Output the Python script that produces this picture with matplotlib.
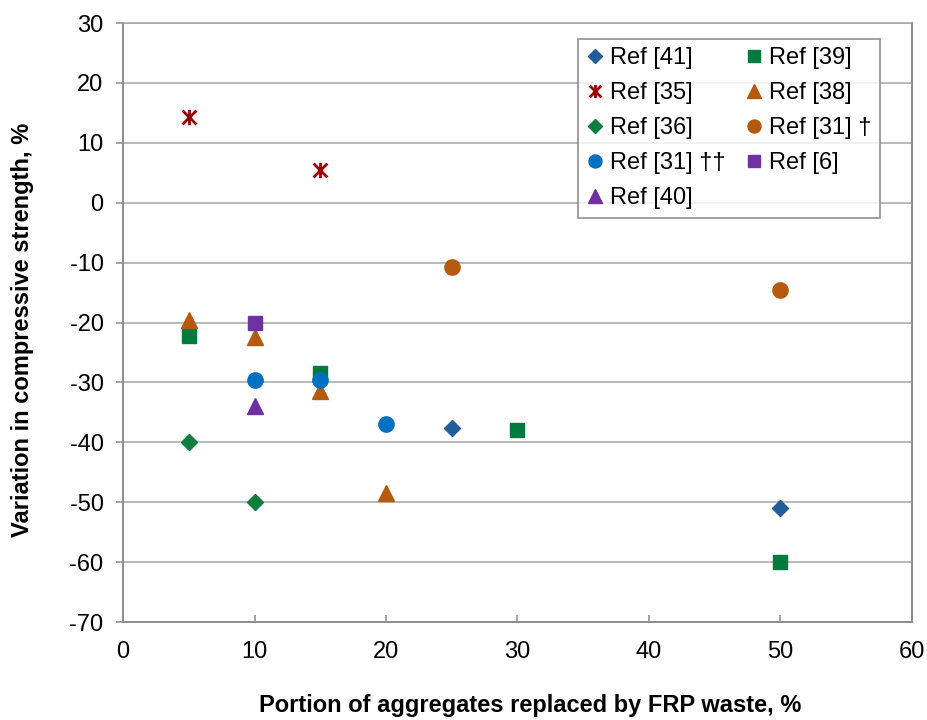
import matplotlib
matplotlib.use('Agg')
import matplotlib.pyplot as plt
from matplotlib.path import Path

plt.rcParams['font.family'] = ['Liberation Sans', 'DejaVu Sans']
plt.rcParams['axes.unicode_minus'] = False

# data
ref41_x = [25, 50]
ref41_y = [-37.6, -51.0]
ref39_x = [5, 15, 30, 50]
ref39_y = [-22.3, -28.5, -38.0, -60.0]
ref35_x = [5, 15]
ref35_y = [14.3, 5.4]
ref38_x = [5, 10, 15, 20]
ref38_y = [-19.5, -22.5, -31.5, -48.5]
ref36_x = [5, 10]
ref36_y = [-40.0, -50.0]
ref31a_x = [25, 50]          # Ref [31] †
ref31a_y = [-10.7, -14.5]
ref31b_x = [10, 15, 20]      # Ref [31] ††
ref31b_y = [-29.6, -29.6, -36.9]
ref6_x = [10]
ref6_y = [-20.0]
ref40_x = [10]
ref40_y = [-34.0]

# X with a vertical bar, like the spreadsheet "star" marker
star = Path([(-1, -1), (1, 1), (-1, 1), (1, -1), (0, -1.1), (0, 1.1)],
            [Path.MOVETO, Path.LINETO, Path.MOVETO, Path.LINETO, Path.MOVETO, Path.LINETO])

fig = plt.figure(figsize=(9.27, 7.2), dpi=100)
ax = fig.add_axes([0.1327, 0.1361, 0.8511, 0.8319])

grid_c = '#A6A6A6'
spine_c = '#8C8C8C'
ax.set_xlim(0, 60)
ax.set_ylim(-70, 30)
ax.set_xticks(range(0, 61, 10))
ax.set_yticks(range(-70, 31, 10))
ax.yaxis.grid(True, color=grid_c, linewidth=1.1)
ax.set_axisbelow(True)
for s in ax.spines.values():
    s.set_color(spine_c)
    s.set_linewidth(1.4)
ax.spines['top'].set_color(grid_c)
ax.spines['top'].set_linewidth(1.1)
ax.tick_params(axis='y', direction='out', length=5, color=spine_c, width=1.1, labelsize=17, pad=9)
ax.tick_params(axis='x', direction='in', length=5, color=spine_c, width=1.1, labelsize=17, pad=14)

# plotted in the original series order so the stacking matches
kw = dict(linestyle='none')
h41, = ax.plot(ref41_x, ref41_y, marker='D', ms=8, color='#215D9B', label='Ref [41]', **kw)
h39, = ax.plot(ref39_x, ref39_y, marker='s', ms=10, color='#007A3D', label='Ref [39]', **kw)
h35, = ax.plot(ref35_x, ref35_y, marker=star, ms=11, color='#990000', mew=2, label='Ref [35]', **kw)
h38, = ax.plot(ref38_x, ref38_y, marker='^', ms=12, color='#B4590E', label='Ref [38]', **kw)
h36, = ax.plot(ref36_x, ref36_y, marker='D', ms=8, color='#0E7E3E', label='Ref [36]', **kw)
h31a, = ax.plot(ref31a_x, ref31a_y, marker='o', ms=11, color='#B4590E', label='Ref [31] †', **kw)
h31b, = ax.plot(ref31b_x, ref31b_y, marker='o', ms=11, color='#0070C0', label='Ref [31] ††', **kw)
h6, = ax.plot(ref6_x, ref6_y, marker='s', ms=10, color='#7030A0', label='Ref [6]', **kw)
h40, = ax.plot(ref40_x, ref40_y, marker='^', ms=12, color='#7030A0', label='Ref [40]', **kw)

# legend fills row by row in the original, matplotlib fills by column
handles = [h41, h35, h36, h31b, h40, h39, h38, h31a, h6]
leg = ax.legend(handles=handles, ncol=2, loc='upper left', bbox_to_anchor=(0.5767, 0.973),
                fontsize=17, frameon=True, fancybox=False, edgecolor='#808080',
                handlelength=0.7, handletextpad=0.3, columnspacing=0.85,
                labelspacing=0.55, borderpad=0.35, borderaxespad=0, markerscale=0.85)
leg.get_frame().set_linewidth(1.3)

ax.set_xlabel('Portion of aggregates replaced by FRP waste, %', fontsize=17, fontweight='bold')
ax.xaxis.set_label_coords(0.516, -0.121)
ax.set_ylabel('Variation in compressive strength, %', fontsize=17, fontweight='bold')
ax.yaxis.set_label_coords(-0.113, 0.487)

fig.savefig('out.png', dpi=100, facecolor='white')
